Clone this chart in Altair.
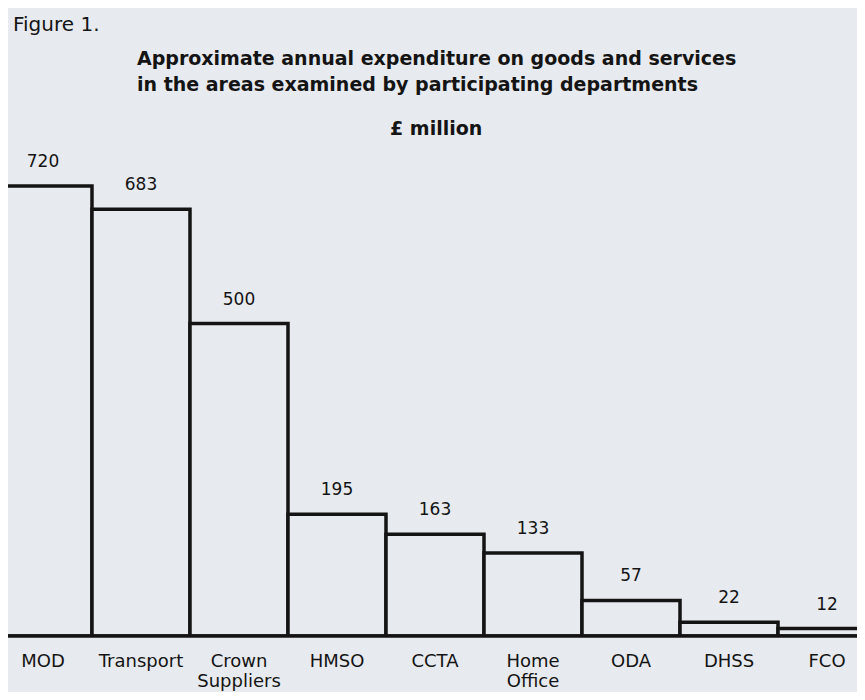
import altair as alt
import pandas as pd

# ---- data ----
departments = ["MOD", "Transport", "Crown\nSuppliers", "HMSO", "CCTA",
               "Home\nOffice", "ODA", "DHSS", "FCO"]
spend = [720, 683, 500, 195, 163, 133, 57, 22, 12]

figure_label = "Figure 1."
title_lines = ["Approximate annual expenditure on goods and services",
               "in the areas examined by participating departments"]
unit_label = "£ million"

BG = "#e7eaee"
INK = "#141414"
FONT = "DejaVu Sans"

W, H = 849, 628

df = pd.DataFrame({"dept": departments, "spend": spend,
                   "pos": list(range(len(spend)))})

base = alt.Chart(df).transform_calculate(
    start="datum.pos", end="datum.pos + 1", mid="datum.pos + 0.5", zero="0"
)

xscale = alt.Scale(domain=[0.143, 8.806], nice=False, zero=False)
yscale = alt.Scale(domain=[0, 1005], nice=False)

bars = base.mark_rect(fill=BG, stroke=INK, strokeWidth=3.5, clip=True).encode(
    x=alt.X("start:Q", scale=xscale, axis=None),
    x2="end:Q",
    y=alt.Y("spend:Q", scale=yscale, axis=None),
    y2="zero:Q",
)

rule = alt.Chart(pd.DataFrame({"zero": [0]})).mark_rule(
    stroke=INK, strokeWidth=3.5
).encode(
    y=alt.Y("zero:Q", scale=yscale, axis=None),
    x=alt.value(0),
    x2=alt.value(W),
)

values = base.mark_text(
    font=FONT, fontSize=17, color=INK, baseline="alphabetic", dy=-19
).encode(
    x=alt.X("mid:Q", scale=xscale, axis=None),
    y=alt.Y("spend:Q", scale=yscale, axis=None),
    text=alt.Text("spend:Q"),
)

cats = base.mark_text(
    font=FONT, fontSize=18, color=INK, baseline="alphabetic", dy=31,
    lineBreak="\n", lineHeight=20
).encode(
    x=alt.X("mid:Q", scale=xscale, axis=None),
    y=alt.Y("zero:Q", scale=yscale, axis=None),
    text="dept:N",
)

fig = alt.Chart(pd.DataFrame({"t": [figure_label]})).mark_text(
    font=FONT, fontSize=20, color=INK, align="left", baseline="alphabetic"
).encode(x=alt.value(5), y=alt.value(23), text="t:N")

title = alt.Chart(pd.DataFrame({"t": ["\n".join(title_lines)]})).mark_text(
    font=FONT, fontSize=19, fontWeight="bold", color=INK, align="left",
    baseline="alphabetic", lineBreak="\n", lineHeight=26
).encode(x=alt.value(129), y=alt.value(57), text="t:N")

unit = alt.Chart(pd.DataFrame({"t": [unit_label]})).mark_text(
    font=FONT, fontSize=19, fontWeight="bold", color=INK, align="left",
    baseline="alphabetic"
).encode(x=alt.value(382), y=alt.value(127), text="t:N")

chart = alt.layer(bars, rule, values, cats, fig, title, unit).properties(
    width=W, height=H,
    autosize=alt.AutoSizeParams(type="none"),
    padding={"left": 0, "top": 0, "right": 0, "bottom": 56},
    background=BG,
).configure_view(stroke=None)

chart.save("out.html", embed_options={"renderer": "svg", "actions": False})
